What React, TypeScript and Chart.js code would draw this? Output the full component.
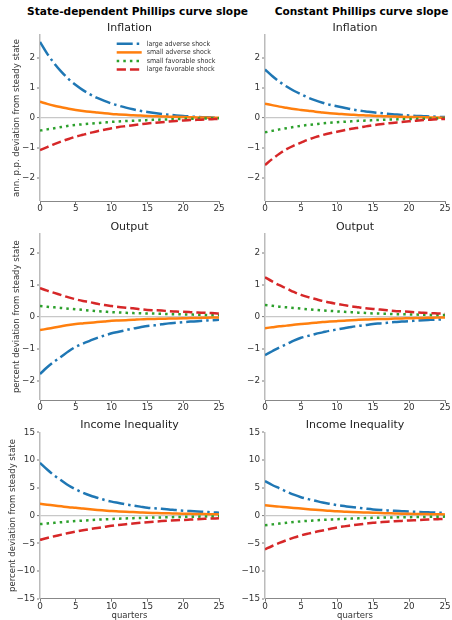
import React, { useEffect, useRef } from "react";
import { Chart, registerables } from "chart.js";

Chart.register(...registerables);
Chart.defaults.font.family = "'DejaVu Sans', 'Liberation Sans', sans-serif";
Chart.defaults.color = "#333";

// ---------- data ----------
const quarters = [0, 1, 2, 3, 4, 5, 6, 7, 8, 9, 10, 11, 12, 13, 14, 15, 16, 17, 18, 19, 20, 21, 22, 23, 24, 25];
const seriesLabels = ["large adverse shock", "small adverse shock", "small favorable shock", "large favorable shock"];
const columnTitles = ["State-dependent Phillips curve slope", "Constant Phillips curve slope"];
const rowTitles = ["Inflation", "Output", "Income Inequality"];
const yAxisTitles = ["ann. p.p. deviation from steady state", "percent deviation from steady state", "percent deviation from steady state"];
const xAxisTitle = "quarters";
const xTicks = [0, 5, 10, 15, 20, 25];
const smallYTicks = [-2, -1, 0, 1, 2];
const ineqYTicks = [-15, -10, -5, 0, 5, 10, 15];

// State-dependent slope: inflation
const sdInflLargeAdverse = [2.54, 2.15, 1.82, 1.54, 1.30, 1.10, 0.93, 0.79, 0.67, 0.57, 0.48, 0.41, 0.345, 0.29, 0.24, 0.20, 0.165, 0.135, 0.11, 0.085, 0.065, 0.05, 0.035, 0.025, 0.015, 0.01];
const sdInflSmallAdverse = [0.54, 0.47, 0.41, 0.36, 0.31, 0.27, 0.235, 0.205, 0.18, 0.155, 0.135, 0.12, 0.105, 0.09, 0.08, 0.07, 0.06, 0.05, 0.045, 0.04, 0.03, 0.025, 0.02, 0.015, 0.01, 0.005];
const sdInflSmallFavorable = [-0.42, -0.38, -0.34, -0.30, -0.26, -0.23, -0.21, -0.19, -0.17, -0.15, -0.13, -0.115, -0.10, -0.09, -0.08, -0.07, -0.06, -0.05, -0.045, -0.04, -0.03, -0.025, -0.02, -0.015, -0.01, -0.005];
const sdInflLargeFavorable = [-1.07, -0.97, -0.87, -0.78, -0.70, -0.62, -0.56, -0.50, -0.44, -0.39, -0.34, -0.30, -0.27, -0.24, -0.21, -0.18, -0.16, -0.14, -0.12, -0.10, -0.08, -0.07, -0.06, -0.05, -0.04, -0.03];

// Constant slope: inflation
const cInflLargeAdverse = [1.62, 1.40, 1.21, 1.05, 0.91, 0.79, 0.68, 0.59, 0.51, 0.44, 0.39, 0.34, 0.29, 0.25, 0.22, 0.19, 0.165, 0.14, 0.12, 0.10, 0.085, 0.07, 0.06, 0.05, 0.04, 0.03];
const cInflSmallAdverse = [0.48, 0.43, 0.38, 0.34, 0.30, 0.27, 0.24, 0.21, 0.185, 0.16, 0.14, 0.125, 0.11, 0.095, 0.085, 0.075, 0.065, 0.055, 0.05, 0.04, 0.035, 0.03, 0.025, 0.02, 0.015, 0.01];
const cInflSmallFavorable = [-0.48, -0.43, -0.38, -0.34, -0.30, -0.26, -0.23, -0.205, -0.18, -0.16, -0.14, -0.125, -0.11, -0.095, -0.085, -0.075, -0.065, -0.055, -0.05, -0.04, -0.035, -0.03, -0.025, -0.02, -0.015, -0.01];
const cInflLargeFavorable = [-1.57, -1.37, -1.19, -1.04, -0.92, -0.82, -0.72, -0.64, -0.57, -0.51, -0.46, -0.41, -0.36, -0.32, -0.28, -0.24, -0.21, -0.18, -0.155, -0.13, -0.11, -0.09, -0.07, -0.055, -0.04, -0.03];

// State-dependent slope: output
const sdOutLargeAdverse = [-1.79, -1.58, -1.40, -1.24, -1.08, -0.94, -0.84, -0.75, -0.66, -0.59, -0.52, -0.47, -0.42, -0.37, -0.33, -0.29, -0.27, -0.24, -0.21, -0.19, -0.17, -0.155, -0.14, -0.125, -0.11, -0.10];
const sdOutSmallAdverse = [-0.42, -0.38, -0.34, -0.30, -0.26, -0.23, -0.21, -0.19, -0.17, -0.15, -0.13, -0.12, -0.11, -0.10, -0.085, -0.075, -0.07, -0.065, -0.06, -0.055, -0.05, -0.045, -0.04, -0.035, -0.03, -0.03];
const sdOutSmallFavorable = [0.33, 0.31, 0.29, 0.27, 0.25, 0.23, 0.21, 0.19, 0.17, 0.155, 0.14, 0.13, 0.12, 0.11, 0.105, 0.10, 0.095, 0.09, 0.08, 0.075, 0.07, 0.065, 0.06, 0.055, 0.05, 0.05];
const sdOutLargeFavorable = [0.89, 0.81, 0.74, 0.67, 0.60, 0.54, 0.49, 0.45, 0.40, 0.36, 0.33, 0.30, 0.28, 0.26, 0.23, 0.21, 0.20, 0.19, 0.17, 0.16, 0.15, 0.14, 0.13, 0.12, 0.11, 0.10];

// Constant slope: output
const cOutLargeAdverse = [-1.20, -1.08, -0.96, -0.86, -0.75, -0.66, -0.60, -0.54, -0.49, -0.44, -0.40, -0.36, -0.32, -0.29, -0.26, -0.23, -0.21, -0.19, -0.17, -0.155, -0.14, -0.125, -0.11, -0.10, -0.09, -0.08];
const cOutSmallAdverse = [-0.36, -0.33, -0.30, -0.28, -0.25, -0.23, -0.21, -0.19, -0.17, -0.155, -0.14, -0.125, -0.11, -0.10, -0.09, -0.08, -0.075, -0.07, -0.06, -0.055, -0.05, -0.045, -0.04, -0.035, -0.03, -0.03];
const cOutSmallFavorable = [0.36, 0.34, 0.31, 0.29, 0.27, 0.25, 0.23, 0.21, 0.195, 0.18, 0.165, 0.15, 0.14, 0.125, 0.115, 0.10, 0.095, 0.09, 0.08, 0.075, 0.07, 0.065, 0.06, 0.055, 0.05, 0.05];
const cOutLargeFavorable = [1.23, 1.10, 0.98, 0.88, 0.77, 0.68, 0.61, 0.55, 0.49, 0.44, 0.40, 0.36, 0.32, 0.29, 0.26, 0.24, 0.22, 0.20, 0.18, 0.165, 0.15, 0.135, 0.12, 0.11, 0.10, 0.09];

// State-dependent slope: income inequality
const sdIneqLargeAdverse = [9.5, 8.3, 7.2, 6.3, 5.4, 4.7, 4.1, 3.6, 3.2, 2.8, 2.5, 2.25, 2.0, 1.8, 1.6, 1.4, 1.3, 1.2, 1.1, 0.97, 0.87, 0.8, 0.72, 0.65, 0.57, 0.5];
const sdIneqSmallAdverse = [2.1, 1.95, 1.8, 1.65, 1.5, 1.4, 1.25, 1.12, 1.0, 0.9, 0.8, 0.74, 0.68, 0.62, 0.56, 0.5, 0.46, 0.42, 0.39, 0.36, 0.33, 0.3, 0.27, 0.25, 0.22, 0.2];
const sdIneqSmallFavorable = [-1.55, -1.43, -1.32, -1.21, -1.1, -1.0, -0.92, -0.84, -0.76, -0.7, -0.63, -0.58, -0.53, -0.48, -0.44, -0.4, -0.37, -0.34, -0.31, -0.28, -0.25, -0.23, -0.21, -0.19, -0.17, -0.15];
const sdIneqLargeFavorable = [-4.4, -4.05, -3.75, -3.45, -3.15, -2.9, -2.67, -2.45, -2.25, -2.05, -1.85, -1.7, -1.57, -1.44, -1.32, -1.2, -1.1, -1.01, -0.93, -0.86, -0.8, -0.73, -0.66, -0.6, -0.55, -0.5];

// Constant slope: income inequality
const cIneqLargeAdverse = [6.2, 5.5, 4.9, 4.3, 3.75, 3.3, 2.95, 2.65, 2.35, 2.1, 1.87, 1.7, 1.53, 1.37, 1.23, 1.1, 1.0, 0.92, 0.84, 0.77, 0.7, 0.65, 0.6, 0.56, 0.52, 0.48];
const cIneqSmallAdverse = [1.85, 1.72, 1.6, 1.48, 1.36, 1.25, 1.14, 1.03, 0.93, 0.84, 0.75, 0.69, 0.63, 0.58, 0.54, 0.5, 0.45, 0.41, 0.37, 0.33, 0.3, 0.28, 0.26, 0.24, 0.22, 0.2];
const cIneqSmallFavorable = [-1.75, -1.6, -1.45, -1.32, -1.18, -1.05, -0.96, -0.88, -0.8, -0.73, -0.66, -0.61, -0.56, -0.51, -0.46, -0.42, -0.39, -0.36, -0.34, -0.32, -0.3, -0.28, -0.26, -0.24, -0.22, -0.2];
const cIneqLargeFavorable = [-6.1, -5.5, -4.95, -4.45, -4.0, -3.6, -3.27, -2.97, -2.7, -2.42, -2.15, -1.96, -1.79, -1.62, -1.46, -1.3, -1.21, -1.12, -1.04, -0.97, -0.9, -0.84, -0.78, -0.72, -0.66, -0.6];

// ---------- styles ----------
const COLORS = ["#1f77b4", "#ff7f0e", "#2ca02c", "#d62728"];
const DASHES = [[16, 4, 2.5, 4], [], [2.5, 4.1], [9.25, 4]];
const LINE_W = 2.5;

// row geometry (page pixels)
const ROWS = [
  { T: 35, B: 201, titleY: 28.3, canvasTop: 10, canvasBottom: 221, yMin: -2.77, yMax: 2.77, yTicks: smallYTicks },
  { T: 233.3, B: 400, titleY: 226.7, canvasTop: 208, canvasBottom: 420, yMin: -2.6, yMax: 2.6, yTicks: smallYTicks },
  { T: 432.3, B: 598.7, titleY: 425, canvasTop: 407, canvasBottom: 621, yMin: -15, yMax: 15, yTicks: ineqYTicks },
];
const COLS = [
  { left: 0, L: 40, R: 219, titleCenter: 137.5, yTitleX: [16.7, 16.7, 12.5] },
  { left: 226, L: 265, R: 445, titleCenter: 361.5, yTitleX: [16.3, 17.3, 11.3] },
];
const COL_W = 226;

const panelSeries = [
  [
    [sdInflLargeAdverse, sdInflSmallAdverse, sdInflSmallFavorable, sdInflLargeFavorable],
    [cInflLargeAdverse, cInflSmallAdverse, cInflSmallFavorable, cInflLargeFavorable],
  ],
  [
    [sdOutLargeAdverse, sdOutSmallAdverse, sdOutSmallFavorable, sdOutLargeFavorable],
    [cOutLargeAdverse, cOutSmallAdverse, cOutSmallFavorable, cOutLargeFavorable],
  ],
  [
    [sdIneqLargeAdverse, sdIneqSmallAdverse, sdIneqSmallFavorable, sdIneqLargeFavorable],
    [cIneqLargeAdverse, cIneqSmallAdverse, cIneqSmallFavorable, cIneqLargeFavorable],
  ],
];

const legendPlugin = {
  id: "lineLegend",
  afterDraw(chart: any, _args: any, opts: any) {
    if (!opts || !opts.show) return;
    const ctx = chart.ctx;
    const { x0, x1, textX, y0, dy } = opts;
    chart.data.datasets.forEach((ds: any, i: number) => {
      const y = y0 + i * dy;
      ctx.save();
      ctx.strokeStyle = ds.borderColor;
      ctx.lineWidth = ds.borderWidth;
      ctx.setLineDash(ds.borderDash || []);
      ctx.lineCap = "butt";
      ctx.beginPath();
      ctx.moveTo(x0, y);
      ctx.lineTo(x1, y);
      ctx.stroke();
      ctx.setLineDash([]);
      ctx.fillStyle = "#333";
      ctx.font = "7px 'DejaVu Sans Condensed', 'Liberation Sans', sans-serif";
      ctx.textBaseline = "middle";
      ctx.textAlign = "left";
      ctx.fillText(ds.label, textX, y);
      ctx.restore();
    });
  },
};

const minusFmt = (v: any) => String(v).replace("-", "\u2212");

function Panel({ row, col }: { row: number; col: number }) {
  const ref = useRef<HTMLCanvasElement | null>(null);
  const r = ROWS[row];
  const c = COLS[col];
  const height = r.canvasBottom - r.canvasTop;

  useEffect(() => {
    if (!ref.current) return;
    const titleLH = 11 * 1.2;
    const titlePadTop = r.titleY - r.canvasTop - titleLH / 2;
    const titlePadBottom = r.T - r.canvasTop - titlePadTop - titleLH;
    const yW = c.L - c.left;
    const xH = r.canvasBottom - r.B;
    const yLabLH = 8.5 * 1.2;
    const yTitlePad = c.yTitleX[row] - c.left - yLabLH / 2;
    const series = panelSeries[row][col];

    const datasets = series.map((vals, i) => ({
      label: seriesLabels[i],
      data: vals.map((v, k) => ({ x: quarters[k], y: v })),
      borderColor: COLORS[i],
      backgroundColor: COLORS[i],
      borderWidth: LINE_W,
      borderDash: DASHES[i],
      pointRadius: 0,
      fill: false,
      cubicInterpolationMode: "monotone" as const,
      order: 4 - i,
    }));

    const chart = new Chart(ref.current, {
      type: "line",
      data: { datasets },
      plugins: [legendPlugin],
      options: {
        responsive: false,
        maintainAspectRatio: false,
        animation: false,
        events: [],
        layout: { padding: { left: 0, right: c.left + COL_W - c.R, top: 0, bottom: 0 } },
        plugins: {
          legend: { display: false },
          tooltip: { enabled: false },
          title: {
            display: true,
            text: rowTitles[row],
            fullSize: false,
            color: "#222",
            font: { size: 11, weight: "normal", lineHeight: 1.2 },
            padding: { top: titlePadTop, bottom: titlePadBottom },
          },
          lineLegend: {
            show: row === 0 && col === 0,
            x0: 116.7,
            x1: 141.7,
            textX: 146.7,
            y0: 43.8 - r.canvasTop,
            dy: 8.6,
          },
        } as any,
        scales: {
          x: {
            type: "linear",
            min: 0,
            max: 25,
            afterBuildTicks: (s: any) => {
              s.ticks = xTicks.map((v) => ({ value: v }));
            },
            afterFit: (s: any) => {
              s.height = xH;
              s.paddingLeft = 0;
              s.paddingRight = 0;
            },
            ticks: {
              font: { size: 8.8, lineHeight: 1 },
              padding: 0.5,
              color: "#333",
              maxRotation: 0,
              autoSkip: false,
              callback: minusFmt,
            },
            grid: {
              drawOnChartArea: false,
              drawTicks: true,
              tickLength: 3,
              tickColor: "#555",
              tickWidth: 0.8,
            },
            border: { display: true, color: "#888", width: 1 },
            title: {
              display: row === 2,
              text: xAxisTitle,
              color: "#333",
              font: { size: 8.5, lineHeight: 1.2 },
              padding: { top: 0, bottom: 0 },
            },
          },
          y: {
            type: "linear",
            min: r.yMin,
            max: r.yMax,
            afterBuildTicks: (s: any) => {
              s.ticks = r.yTicks.map((v) => ({ value: v }));
            },
            afterFit: (s: any) => {
              s.width = yW;
              s.paddingTop = 0;
              s.paddingBottom = 0;
            },
            ticks: {
              font: { size: 8.8 },
              padding: 2,
              color: "#333",
              autoSkip: false,
              callback: minusFmt,
            },
            grid: {
              drawOnChartArea: true,
              drawTicks: true,
              tickLength: 3,
              tickColor: "#555",
              tickWidth: 0.8,
              color: (ctx: any) => (ctx.tick && ctx.tick.value === 0 ? "#c8c8c8" : "rgba(0,0,0,0)"),
              lineWidth: (ctx: any) => (ctx.tick && ctx.tick.value === 0 ? 1.2 : 0),
            },
            border: { display: true, color: "#bbbbbb", width: 1.5 },
            title: {
              display: true,
              text: yAxisTitles[row],
              color: "#333",
              font: { size: 8.5, lineHeight: 1.2 },
              padding: { top: yTitlePad, bottom: 0 },
            },
          },
        },
      } as any,
    });
    return () => chart.destroy();
  }, [row, col]);

  return (
    <canvas
      ref={ref}
      width={COL_W}
      height={height}
      style={{ position: "absolute", left: c.left, top: r.canvasTop, width: COL_W, height }}
    />
  );
}

export default function App() {
  return (
    <div
      style={{
        position: "fixed",
        left: 0,
        top: 0,
        width: 452,
        height: 620,
        overflow: "hidden",
        background: "#fff",
      }}
    >
      {COLS.map((c, ci) => (
        <div
          key={"t" + ci}
          style={{
            position: "absolute",
            left: c.titleCenter - 150,
            width: 300,
            top: 4,
            height: 14,
            lineHeight: "14px",
            textAlign: "center",
            fontFamily: "'DejaVu Sans', sans-serif",
            fontWeight: "bold",
            fontSize: 10.6,
            color: "#000",
            whiteSpace: "nowrap",
          }}
        >
          {columnTitles[ci]}
        </div>
      ))}
      {ROWS.map((_, ri) => COLS.map((__, ci) => <Panel key={ri + "-" + ci} row={ri} col={ci} />))}
    </div>
  );
}
